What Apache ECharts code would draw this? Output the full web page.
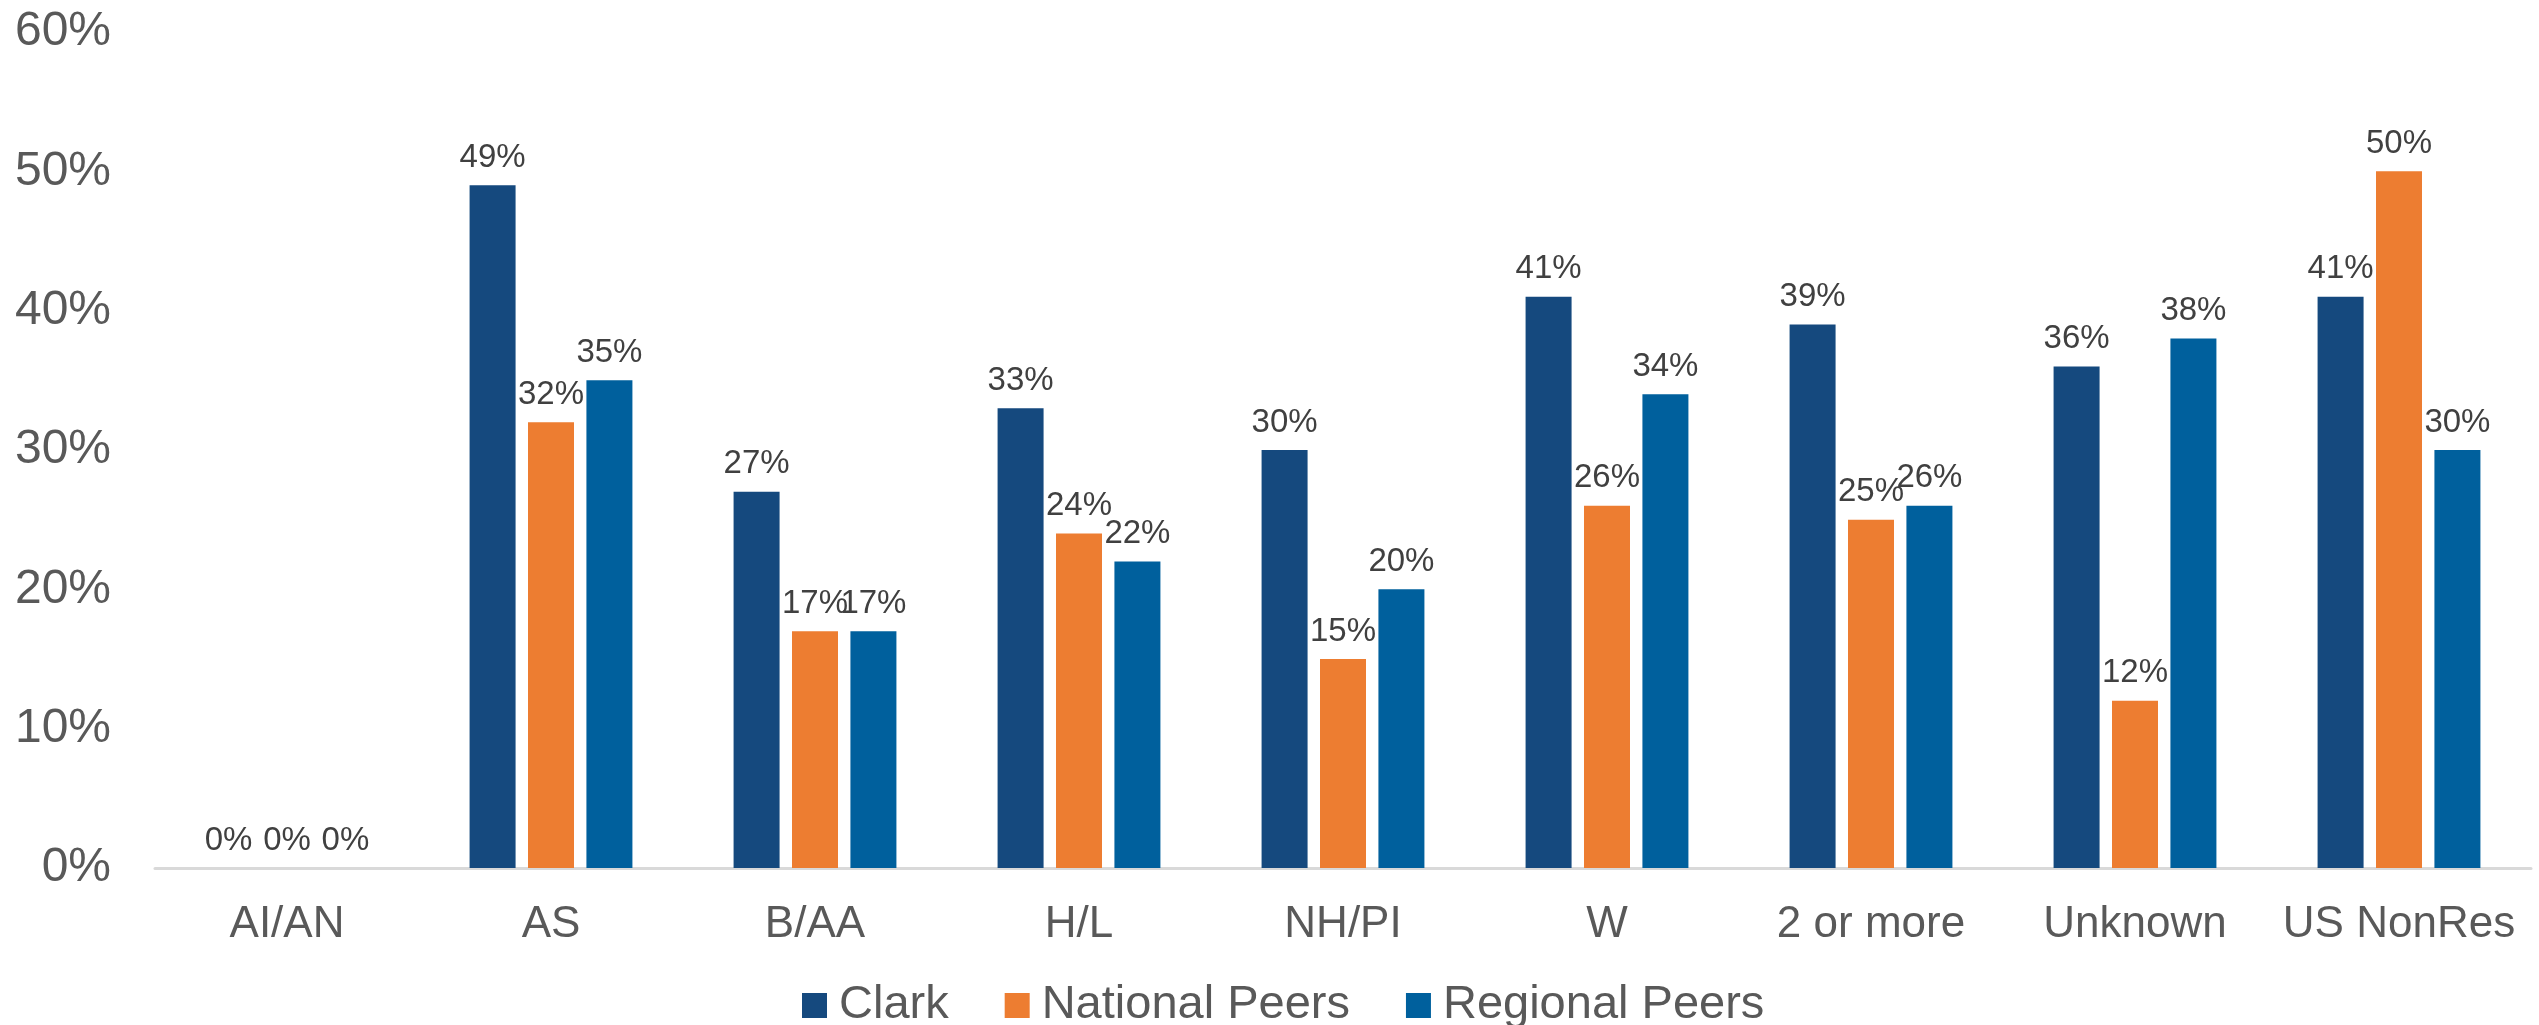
<!DOCTYPE html>
<html>
<head>
<meta charset="utf-8">
<script src="https://cdn.jsdelivr.net/npm/echarts@6/dist/echarts.min.js"></script>
<style>
html,body{margin:0;padding:0;background:#fff;}
#chart{width:2539px;height:1025px;}
</style>
</head>
<body>
<div id="chart"></div>
<script>
const categories = ["AI/AN","AS","B/AA","H/L","NH/PI","W","2 or more","Unknown","US NonRes"];
const clark = [0,49,27,33,30,41,39,36,41];
const nationalPeers = [0,32,17,24,15,26,25,12,50];
const regionalPeers = [0,35,17,22,20,34,26,38,30];
const yTicks = [0,10,20,30,40,50,60];

const FONT = "'Liberation Sans', Arial, sans-serif";
const chart = echarts.init(document.getElementById('chart'));

function mk(name, data, color) {
  return {
    name: name,
    type: 'bar',
    data: data,
    barWidth: 46,
    barGap: '27%',
    itemStyle: { color: color },
    label: {
      show: true,
      position: 'top',
      distance: 11,
      formatter: p => p.value + '%',
      fontFamily: FONT,
      fontSize: 33,
      color: '#404040'
    }
  };
}

chart.setOption({
  animation: false,
  backgroundColor: '#ffffff',
  grid: { left: 155, right: 8, top: 32, bottom: 1025 - 868, containLabel: false },
  xAxis: {
    type: 'category',
    data: categories,
    axisLine: { show: true, lineStyle: { color: '#D9D9D9', width: 3 } },
    axisTick: { show: false },
    axisLabel: { interval: 0, fontFamily: FONT, fontSize: 44, color: '#595959', margin: 35 }
  },
  yAxis: {
    type: 'value',
    min: yTicks[0],
    max: yTicks[yTicks.length - 1],
    interval: 10,
    splitLine: { show: false },
    axisLine: { show: false },
    axisTick: { show: false },
    axisLabel: { fontFamily: FONT, fontSize: 48, color: '#595959', margin: 44, formatter: v => v + '%' }
  },
  legend: {
    left: 797,
    top: 977,
    icon: 'rect',
    itemWidth: 25,
    itemHeight: 25,
    itemGap: 56,
    textStyle: { fontFamily: FONT, fontSize: 47, color: '#595959', padding: [0,0,0,7] },
    data: ['Clark','National Peers','Regional Peers']
  },
  series: [
    mk('Clark', clark, '#15497E'),
    mk('National Peers', nationalPeers, '#ED7D31'),
    mk('Regional Peers', regionalPeers, '#00609D')
  ]
});
</script>
</body>
</html>
